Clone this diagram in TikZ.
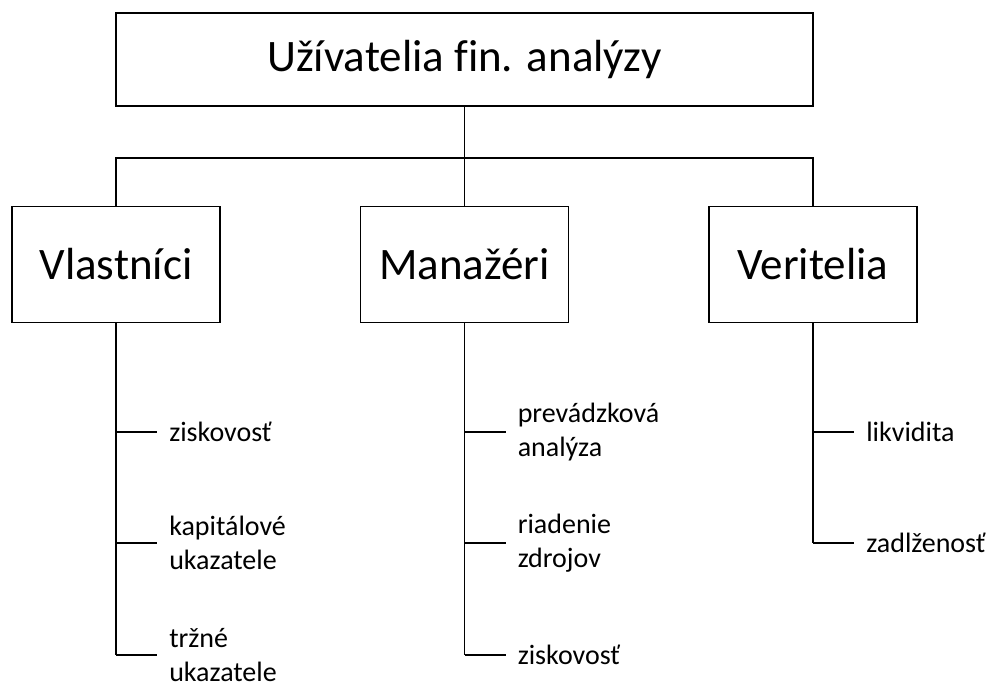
\documentclass[tikz,border=0pt]{standalone}
\usepackage{fontspec}
\setmainfont{Carlito}[Ligatures=NoCommon]
\usepackage{tikz}
\usetikzlibrary{positioning}
\tikzset{
  userbox/.style={draw,line width=1.4pt,minimum width=156pt,minimum height=87pt,inner sep=0pt,font=\fontsize{33.75}{40}\selectfont},
  leaf/.style={anchor=west,inner xsep=9pt,inner ysep=0pt,align=left,font=\fontsize{21}{25.5}\selectfont},
  link/.style={line width=1.4pt}
}
\newcommand{\leafitem}[4]{%
  \coordinate (#1b) at (#2,#3);%
  \node[leaf] (#1) at (#2+41,#3) {#4};%
  \draw[link] (#1b) -- (#1.west);%
}

\begin{document}
\begin{tikzpicture}[x=0.75pt,y=-0.75pt]
  \useasboundingbox (0,0) rectangle (995,682);
  \node[userbox,minimum width=523pt,minimum height=70pt] (top) at (464.5,59.5) {Užívatelia fin. analýzy};
  \node[userbox] (vl) at (116,264.5) {Vlastníci};
  \node[userbox] (ma) at (464.5,264.5) {Manažéri};
  \node[userbox] (ve) at (813,264.5) {Veritelia};
  \coordinate (bus) at (464.5,158);
  \draw[link] (top.south) -- (ma.north);
  \draw[link] (vl.north) |- (bus) -| (ve.north);
  \leafitem{vl1}{116}{432}{ziskovosť}
  \leafitem{vl2}{116}{543}{kapitálové\\ukazatele}
  \leafitem{vl3}{116}{655}{tržné\\ukazatele}
  \draw[link] (vl.south) -- (vl3b);
  \leafitem{ma1}{464.5}{432}{prevádzková\\analýza}
  \leafitem{ma2}{464.5}{543}{riadenie\\zdrojov}
  \leafitem{ma3}{464.5}{655}{ziskovosť}
  \draw[link] (ma.south) -- (ma3b);
  \leafitem{ve1}{813}{432}{likvidita}
  \leafitem{ve2}{813}{543}{zadlženosť}
  \draw[link] (ve.south) -- (ve2b);
\end{tikzpicture}
\end{document}
